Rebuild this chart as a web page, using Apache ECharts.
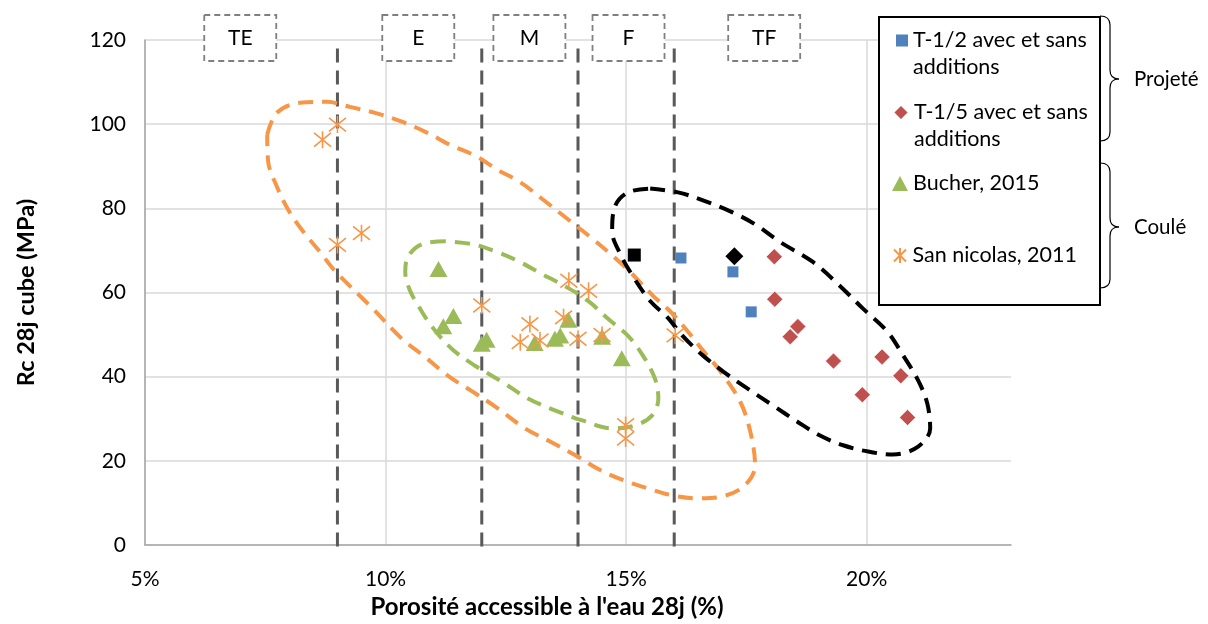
<!DOCTYPE html>
<html><head><meta charset="utf-8">
<script src="https://cdn.jsdelivr.net/npm/echarts@6/dist/echarts.min.js"></script>
<style>html,body{margin:0;padding:0;background:#fff}#c{width:1208px;height:624px}</style>
</head><body><div id="c"></div>
<script>
const FONT = 'Lato, "Liberation Sans", sans-serif';

// ---- Data (x = porosité %, y = Rc MPa) ----
const t12 = [[16.14,68.2],[17.22,64.9],[17.6,55.4]];
const t12Ref = [[15.17,68.9]];
const t15 = [[18.08,68.5],[18.09,58.4],[18.57,51.9],[18.41,49.5],[19.31,43.7],[20.32,44.7],[20.71,40.2],[19.91,35.7],[20.85,30.3]];
const t15Ref = [[17.25,68.6]];
const bucher = [[11.1,65.6],[11.41,54.4],[11.2,52.0],[12.1,48.8],[12.0,47.8],[13.1,48.0],[13.52,49.0],[13.63,49.8],[13.8,53.5],[14.5,49.5],[14.91,44.4]];
const sanNicolas = [[9.0,99.9],[8.69,96.3],[9.0,71.3],[9.5,74.1],[13.81,62.8],[14.22,60.4],[12.0,56.9],[13.0,52.5],[13.7,54.1],[12.8,48.2],[13.21,48.6],[14.0,49.0],[14.5,49.9],[14.99,28.5],[14.99,25.3],[16.02,49.8]];

// zone boundaries and labels
const zoneBounds = [9, 12, 14, 16];
const zoneLineTop = 118;
const zoneLineBottom = -2;
const zoneLabels = ['TE', 'E', 'M', 'F', 'TF'];
const zoneLabelX = [6.98, 10.68, 12.99, 15.05, 17.87];

// hand-drawn grouping outlines (data units)
const outlineOrange = [[7.54,97.5],[7.74,102.7],[8.22,105.1],[8.78,105.3],[9.26,104.1],[9.78,102.7],[10.34,100.6],[10.86,98.0],[11.34,95.1],[11.9,92.3],[12.32,89.2],[12.8,86.2],[13.27,82.1],[13.79,77.4],[14.31,72.7],[14.73,68.6],[15.08,64.9],[15.56,59.2],[15.91,55.6],[16.27,50.9],[16.6,46.2],[16.95,41.4],[17.37,34.1],[17.58,27.0],[17.68,18.9],[17.47,14.2],[17.02,11.6],[16.5,11.1],[15.96,11.8],[15.44,13.5],[14.94,15.4],[14.46,17.8],[13.98,21.1],[13.42,24.6],[12.9,27.7],[12.28,32.9],[11.8,36.5],[11.3,40.2],[10.82,44.7],[10.34,49.0],[9.68,56.8],[8.95,65.1],[8.64,69.6],[8.28,74.6],[7.97,79.8],[7.74,85.2],[7.56,91.1],[7.54,97.5]];
const outlineGreen = [[11.24,72.2],[10.76,71.5],[10.47,68.6],[10.41,64.9],[10.51,60.4],[10.72,56.1],[10.97,51.8],[11.38,46.6],[11.86,42.6],[12.42,38.8],[12.96,34.8],[13.52,32.0],[14.09,29.6],[14.71,27.7],[15.19,28.4],[15.54,30.8],[15.67,34.8],[15.6,39.5],[15.35,45.0],[15.04,49.7],[14.63,53.7],[14.21,58.0],[13.73,61.5],[13.25,64.4],[12.75,67.5],[12.28,69.8],[11.8,71.5],[11.24,72.2]];
const outlineBlack = [[15.5,84.7],[16.08,83.8],[16.64,81.7],[17.2,79.1],[17.68,76.2],[18.2,72.0],[18.89,67.2],[19.45,61.5],[19.93,56.1],[20.43,50.7],[20.76,45.0],[21.07,39.1],[21.26,33.6],[21.32,27.7],[21.07,23.4],[20.55,21.5],[20.03,22.2],[19.51,23.7],[19.03,26.0],[18.56,29.3],[18.06,33.1],[17.52,37.2],[17.02,41.2],[16.6,45.0],[16.19,49.5],[15.85,54.2],[15.5,58.0],[15.15,63.7],[14.88,69.1],[14.71,74.6],[14.77,80.5],[15.04,83.8],[15.5,84.7]];

const names = ['T-1/2 avec et sans additions', 'T-1/5 avec et sans additions', 'Bucher, 2015', 'San nicolas, 2011'];
const STAR = 'path://M1,1L9,9M9,1L1,9M5,0L5,10';

function outline(data, color) {
  return {
    type: 'line', data: data, smooth: 0.35, symbol: 'none', silent: true, z: 3,
    lineStyle: { color: color, width: 4, type: [15, 9], cap: 'butt' }
  };
}

const legendText = { fontFamily: FONT, fontSize: 21.5, color: '#000', lineHeight: 27 };
function legendItem(name, left, top, w, h, twoLines) {
  return {
    data: [name], orient: 'vertical', left: left, top: top, padding: 0,
    itemWidth: w, itemHeight: h, selectedMode: false,
    // leading blank line keeps the icon aligned with the first text line
    formatter: n => twoLines ? '\n' + n.replace(' additions', '\nadditions') : n,
    textStyle: legendText
  };
}

// curly brace made of lines and quadratic curves (legend decoration, pixels)
function brace(x0, xs, xt, yTop, yMid, yBot) {
  const st = { stroke: '#000', lineWidth: 1.2, fill: 'none' };
  const r = 9;
  return {
    type: 'group', z: 5, children: [
      { type: 'bezierCurve', shape: { x1: x0, y1: yTop, cpx1: xs, cpy1: yTop, x2: xs, y2: yTop + r }, style: st },
      { type: 'line', shape: { x1: xs, y1: yTop + r, x2: xs, y2: yMid - r }, style: st },
      { type: 'bezierCurve', shape: { x1: xs, y1: yMid - r, cpx1: xs, cpy1: yMid, x2: xt, y2: yMid }, style: st },
      { type: 'bezierCurve', shape: { x1: xt, y1: yMid, cpx1: xs, cpy1: yMid, x2: xs, y2: yMid + r }, style: st },
      { type: 'line', shape: { x1: xs, y1: yMid + r, x2: xs, y2: yBot - r }, style: st },
      { type: 'bezierCurve', shape: { x1: xs, y1: yBot - r, cpx1: xs, cpy1: yBot, x2: x0, y2: yBot }, style: st }
    ]
  };
}

const chart = echarts.init(document.getElementById('c'));
chart.setOption({
  animation: false,
  backgroundColor: '#fff',
  grid: { left: 145, right: 197, top: 40, bottom: 77 },
  xAxis: {
    type: 'value', min: 5, max: 23, interval: 5,
    name: "Porosité accessible à l'eau 28j (%)", nameLocation: 'middle', nameGap: 50,
    nameTextStyle: { fontFamily: FONT, fontSize: 24, fontWeight: 'bold', color: '#000', padding: [0, 62, 0, 0] },
    axisLine: { show: true, lineStyle: { color: '#A6A6A6', width: 1.5 } },
    axisTick: { show: false },
    axisLabel: { margin: 24, fontFamily: FONT, fontSize: 21, color: '#000', showMaxLabel: false, formatter: v => v + '%' },
    splitLine: { show: true, showMaxLine: false, lineStyle: { color: '#D9D9D9', width: 1.5 } }
  },
  yAxis: {
    type: 'value', min: 0, max: 120, interval: 20,
    name: 'Rc 28j cube (MPa)', nameLocation: 'middle', nameGap: 107,
    nameTextStyle: { fontFamily: FONT, fontSize: 23.5, fontWeight: 'bold', color: '#000' },
    axisLine: { show: true, lineStyle: { color: '#A6A6A6', width: 1.5 } },
    axisTick: { show: false },
    axisLabel: { margin: 19, fontFamily: FONT, fontSize: 21, color: '#000' },
    splitLine: { show: true, lineStyle: { color: '#D9D9D9', width: 1.5 } }
  },
  legend: [
    legendItem(names[0], 896, 0, 12, 12, true),
    legendItem(names[1], 892, 72, 16, 16, true),
    legendItem(names[2], 892, 170, 16, 15, false),
    legendItem(names[3], 893, 242, 15, 15, false)
  ],
  graphic: [
    { type: 'rect', z: 3, shape: { x: 879, y: 17, width: 221, height: 288 }, style: { fill: '#fff', stroke: '#000', lineWidth: 2 } },
    brace(1100, 1110, 1119, 16, 79, 141),
    brace(1100, 1110, 1119, 163, 227, 288),
    { type: 'text', z: 5, x: 1134, y: 79, style: { text: 'Projeté', fontFamily: FONT, fontSize: 20.5, fill: '#000', align: 'left', verticalAlign: 'middle' } },
    { type: 'text', z: 5, x: 1134, y: 227, style: { text: 'Coulé', fontFamily: FONT, fontSize: 20.5, fill: '#000', align: 'left', verticalAlign: 'middle' } }
  ],
  series: [
    {
      type: 'custom', name: 'limites', silent: true, clip: false, z: 2,
      data: zoneBounds.map(x => [x, zoneLineTop, zoneLineBottom]),
      encode: { x: 0, y: [1, 2] },
      renderItem: (params, api) => {
        const a = api.coord([api.value(0), api.value(1)]);
        const b = api.coord([api.value(0), api.value(2)]);
        return { type: 'line', shape: { x1: a[0], y1: a[1], x2: b[0], y2: b[1] }, style: { stroke: '#595959', lineWidth: 3, lineDash: [14, 8] } };
      }
    },
    {
      type: 'custom', name: 'zones', silent: true, clip: false, z: 6,
      data: zoneLabelX.map(x => [x, 120]),
      encode: { x: 0, y: 1 },
      renderItem: (params, api) => {
        const c = api.coord([api.value(0), api.value(1)]);
        return {
          type: 'group', children: [
            { type: 'rect', shape: { x: c[0] - 36, y: c[1] - 25, width: 72, height: 46 }, style: { fill: '#fff', stroke: '#7F7F7F', lineWidth: 1.8, lineDash: [6, 4] } },
            { type: 'text', x: c[0], y: c[1] - 2, style: { text: zoneLabels[params.dataIndex], fontFamily: FONT, fontSize: 21, fill: '#000', align: 'center', verticalAlign: 'middle' } }
          ]
        };
      }
    },
    outline(outlineOrange, '#F79646'),
    outline(outlineGreen, '#9BBB59'),
    outline(outlineBlack, '#000000'),
    { type: 'scatter', name: names[0], data: t12, symbol: 'rect', symbolSize: 11, z: 4, itemStyle: { color: '#4F81BD', opacity: 1 } },
    { type: 'scatter', name: names[1], data: t15, symbol: 'diamond', symbolSize: 16, z: 4, itemStyle: { color: '#C0504D', borderColor: '#fff', borderWidth: 0.5, opacity: 1 } },
    { type: 'scatter', name: names[2], data: bucher, symbol: 'triangle', symbolSize: [18, 16], z: 4, itemStyle: { color: '#9BBB59', opacity: 1 } },
    { type: 'scatter', name: names[3], data: sanNicolas, symbol: STAR, symbolSize: 17, z: 4, itemStyle: { color: 'transparent', borderColor: '#F79646', borderWidth: 1.6, opacity: 1 } },
    { type: 'scatter', name: 'T-1/2 repère', data: t12Ref, symbol: 'rect', symbolSize: 13, z: 4, itemStyle: { color: '#000', opacity: 1 } },
    { type: 'scatter', name: 'T-1/5 repère', data: t15Ref, symbol: 'diamond', symbolSize: 18, z: 4, itemStyle: { color: '#000', opacity: 1 } }
  ]
});
</script>
</body></html>
